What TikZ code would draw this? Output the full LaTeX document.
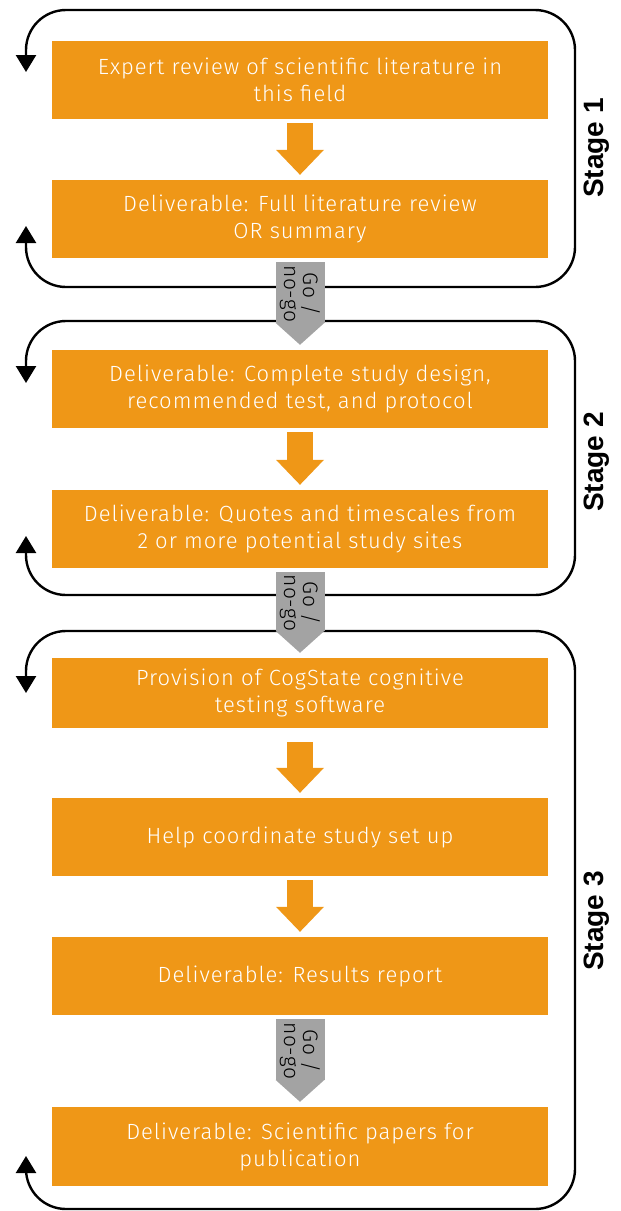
\documentclass[tikz,border=0pt]{standalone}
\usepackage{fontspec}
\setmainfont{Fira Sans Light}[LetterSpace=4.5]
\newfontfamily\gatefont{Fira Sans Light}[LetterSpace=3]
\newfontfamily\stagefont{Liberation Sans}
\usetikzlibrary{arrows.meta}

\definecolor{boxorange}{HTML}{EF9717}
\definecolor{gategray}{HTML}{A3A3A3}

\begin{document}
\begin{tikzpicture}[x=1pt,y=-1pt]
  \tikzstyle{task}=[fill=boxorange, text=white, minimum width=496pt, minimum height=78pt,
    inner sep=0pt, align=center, font=\fontsize{22}{27}\selectfont]
  \tikzstyle{flow}=[draw=boxorange, line width=26pt, shorten <=4pt, shorten >=5pt,
    -{Triangle[width=48pt, length=25pt, line width=0pt]}]
  \tikzstyle{gate}=[draw=gategray, line width=49pt, shorten <=4pt, shorten >=5pt,
    -{Triangle[width=49pt, length=22pt, line width=0pt]}]
  \tikzstyle{gatetext}=[rotate=-90, align=center, inner sep=0pt, text=black,
    font=\gatefont\fontsize{21}{19}\selectfont]
  \tikzstyle{stageloop}=[line width=2.4pt, rounded corners=40pt,
    {Triangle[width=20pt, length=17pt]}-{Triangle[width=20pt, length=17pt]}]
  \tikzstyle{stagename}=[rotate=90, font=\stagefont\bfseries\fontsize{28}{28}\selectfont]

    \useasboundingbox (0,0) rectangle (621,1211);

    % stage 1
    \node[task] (review) at (300, 80) {Expert review of scientific literature in\\this field};
    \node[task] (litrev) at (300, 219) {Deliverable: Full literature review\\OR summary};
    \draw[flow] (review) -- (litrev);
    \draw[stageloop] (26, 72) -- (26, 10) -- (575, 10) -- (575, 287) -- (26, 287) -- (26, 226);
    \node[stagename] (stage1) at (597, 148) {Stage 1};

    % stage 2
    \node[task] (design) at (300, 389) {Deliverable: Complete study design,\\recommended test, and protocol};
    \node[task] (quotes) at (300, 529) {Deliverable: Quotes and timescales from\\2 or more potential study sites};
    \draw[flow] (design) -- (quotes);
    \draw[stageloop] (26, 383) -- (26, 321) -- (575, 321) -- (575, 595) -- (26, 595) -- (26, 536);
    \node[stagename] (stage2) at (597, 462) {Stage 2};

    % stage 3
    \node[task, minimum height=70pt] (cogstate) at (300, 693) {Provision of CogState cognitive\\testing software};
    \node[task] (setup) at (300, 837) {Help coordinate study set up};
    \node[task] (results) at (300, 976) {Deliverable: Results report};
    \node[task, minimum height=79pt] (papers) at (300, 1146.5) {Deliverable: Scientific papers for\\publication};
    \draw[flow, shorten <=14pt] (cogstate) -- (setup);
    \draw[flow] (setup) -- (results);
    \draw[stageloop] (26, 693) -- (26, 631) -- (575, 631) -- (575, 1209) -- (26, 1209) -- (26, 1156);
    \node[stagename] (stage3) at (597, 921) {Stage 3};

    % go / no-go gates
    \draw[gate] (litrev) -- node[gatetext, pos=0.39] (gate1) {Go /\\no-go} (design);
    \draw[gate] (quotes) -- node[gatetext, pos=0.39] (gate2) {Go /\\no-go} (cogstate);
    \draw[gate] (results) -- node[gatetext, pos=0.39] (gate3) {Go /\\no-go} (papers);

  \end{tikzpicture}
\end{document}
